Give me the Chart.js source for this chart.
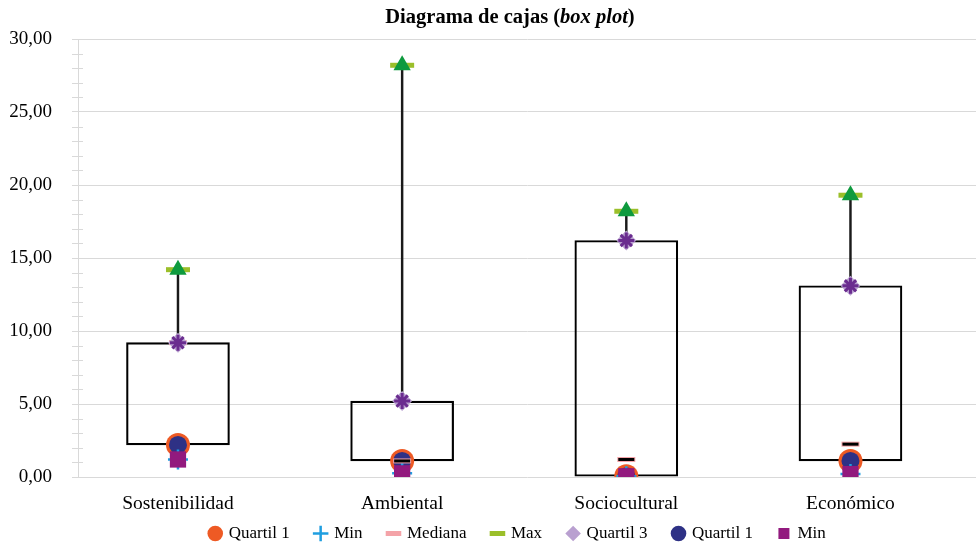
<!DOCTYPE html>
<html lang="es">
<head>
<meta charset="utf-8">
<script src="https://cdn.jsdelivr.net/npm/chart.js@4.4.1/dist/chart.umd.min.js"></script>
<style>
  html, body { margin: 0; background: #fff; overflow: hidden; }
  #contenedor { position: relative; width: 976px; height: 544px; }
  #grafico { display: block; }
  #titulo {
    position: absolute; top: 5px; left: 0; width: 976px; padding-left: 44px; box-sizing: border-box;
    text-align: center; font: bold 20.5px "Liberation Serif", serif; color: #000;
  }
</style>
</head>
<body>
<div id="contenedor">
  <div id="titulo">Diagrama de cajas (<i>box plot</i>)</div>
  <canvas id="grafico"></canvas>
</div>
<script>
// Datos
const categorias = ["Sostenibilidad", "Ambiental", "Sociocultural", "Económico"];
const minimo   = [1.2, 0.25, 0.05, 0.2];
const quartil1 = [2.2, 1.1, 0.05, 1.1];
const mediana  = [9.2, 1.1, 1.2, 2.25];
const quartil3 = [9.2, 5.2, 16.2, 13.1];
const maximo   = [14.2, 28.2, 18.2, 19.3];

// Etiquetas que no van en la leyenda
const sinLeyenda = ["Caja", "Bigote", "Mediana (línea)", "Max (triángulo)", "Quartil 3 (asterisco)"];

const puntos = valores => valores.map((v, i) => ({ x: i, y: v }));

Chart.defaults.font.family = '"Liberation Serif", "Times New Roman", serif';
Chart.defaults.color = "#000";

// 🔹 Marcas menores del eje Y
const marcasMenores = {
  id: "marcasMenores",
  beforeDatasetsDraw(chart) {
    const y = chart.scales.y;
    const ctx = chart.ctx;
    ctx.save();
    ctx.strokeStyle = "#d9d9d9";
    ctx.lineWidth = 1;
    for (let v = y.min; v <= y.max; v += 1) {
      if (v % 5 === 0) continue;
      const py = Math.round(y.getPixelForValue(v)) + 0.5;
      ctx.beginPath();
      ctx.moveTo(y.right - 6, py);
      ctx.lineTo(y.right + 5, py);
      ctx.stroke();
    }
    ctx.restore();
  }
};

// 🔹 Coloca la leyenda como en el original
const moverLeyenda = {
  id: "moverLeyenda",
  afterLayout(chart) {
    const leyenda = chart.legend;
    const alto = leyenda.bottom - leyenda.top;
    leyenda.left += 30;
    leyenda.right += 30;
    leyenda.top = 499;
    leyenda.bottom = 499 + alto;
  }
};

new Chart(document.getElementById("grafico"), {
  type: "scatter",
  data: {
    datasets: [
      { label: "Quartil 1", data: puntos(quartil1), pointStyle: "circle", radius: 12,
        backgroundColor: "#ee5a24", borderColor: "#ee5a24", borderWidth: 0, order: 18 },
      { label: "Min", data: puntos(minimo), pointStyle: "cross", radius: 10,
        backgroundColor: "#1f9ee0", borderColor: "#1f9ee0", borderWidth: 2.5, order: 16 },
      { label: "Mediana", data: puntos(mediana), pointStyle: "line", radius: 9,
        backgroundColor: "#f4a3a8", borderColor: "#f4a3a8", borderWidth: 5, order: 14 },
      { label: "Max", data: puntos(maximo), pointStyle: "line", radius: 12,
        backgroundColor: "#9bbf2a", borderColor: "#9bbf2a", borderWidth: 5, order: 12 },
      { label: "Quartil 3", data: puntos(quartil3), pointStyle: "rectRot", radius: 10,
        backgroundColor: "#b9a0d0", borderColor: "#b9a0d0", borderWidth: 0, order: 10 },
      { label: "Quartil 1", data: puntos(quartil1), pointStyle: "circle", radius: 9,
        backgroundColor: "#2e3185", borderColor: "#2e3185", borderWidth: 0, order: 17 },
      { label: "Min", data: puntos(minimo), pointStyle: "rect", radius: 11.5,
        backgroundColor: "#921a7e", borderColor: "#921a7e", borderWidth: 0, order: 15 },
      { label: "Mediana (línea)", data: puntos(mediana), pointStyle: "line", radius: 8,
        backgroundColor: "#000", borderColor: "#000", borderWidth: 3, order: 13 },
      { label: "Max (triángulo)", data: puntos(maximo), pointStyle: "triangle", radius: 10,
        backgroundColor: "#0e9a3e", borderColor: "#0e9a3e", borderWidth: 0, order: 11 },
      { label: "Quartil 3 (asterisco)", data: puntos(quartil3), pointStyle: "star", radius: 8,
        backgroundColor: "#6a2c8f", borderColor: "#6a2c8f", borderWidth: 3, order: 9 },
      { type: "bar", label: "Caja", data: categorias.map((c, i) => ({ x: i, y: [quartil1[i], quartil3[i]] })),
        barThickness: 103, grouped: false, backgroundColor: "rgba(255,255,255,0)",
        borderColor: "#000", borderWidth: 1.5, borderSkipped: false, order: 20 },
      { type: "bar", label: "Bigote", data: categorias.map((c, i) => ({ x: i, y: [quartil3[i], maximo[i]] })),
        barThickness: 1.8, grouped: false, backgroundColor: "#1a1a1a", borderWidth: 0, order: 19 }
    ]
  },
  options: {
    responsive: true,
    maintainAspectRatio: false,
    animation: false,
    events: [],
    layout: { autoPadding: false, padding: { top: 39, left: 0, right: 0, bottom: -26 } },
    scales: {
      x: {
        type: "linear",
        offset: false,
        min: -0.446,
        max: 3.56,
        afterBuildTicks: scale => { scale.ticks = categorias.map((c, i) => ({ value: i })); },
        afterFit: scale => { scale.height = 40; },
        ticks: {
          callback: v => categorias[v],
          autoSkip: false, maxRotation: 0, padding: 7,
          font: { size: 19.5 }
        },
        grid: { display: false },
        border: { display: false }
      },
      y: {
        min: 0,
        max: 30,
        afterFit: scale => { scale.width = 78; },
        ticks: {
          stepSize: 5, padding: 20,
          callback: v => v.toFixed(2).replace(".", ","),
          font: { size: 19 }
        },
        grid: { color: "#d9d9d9", tickLength: 6 },
        border: { color: "#d9d9d9" }
      }
    },
    plugins: {
      title: { display: false },
      tooltip: { enabled: false },
      legend: {
        position: "bottom",
        labels: {
          usePointStyle: true,
          boxWidth: 10,
          boxHeight: 11,
          padding: 26,
          font: { size: 17 },
          filter: item => !sinLeyenda.includes(item.text),
          sort: (a, b) => a.datasetIndex - b.datasetIndex
        }
      }
    }
  },
  plugins: [marcasMenores, moverLeyenda]
});
</script>
</body>
</html>
